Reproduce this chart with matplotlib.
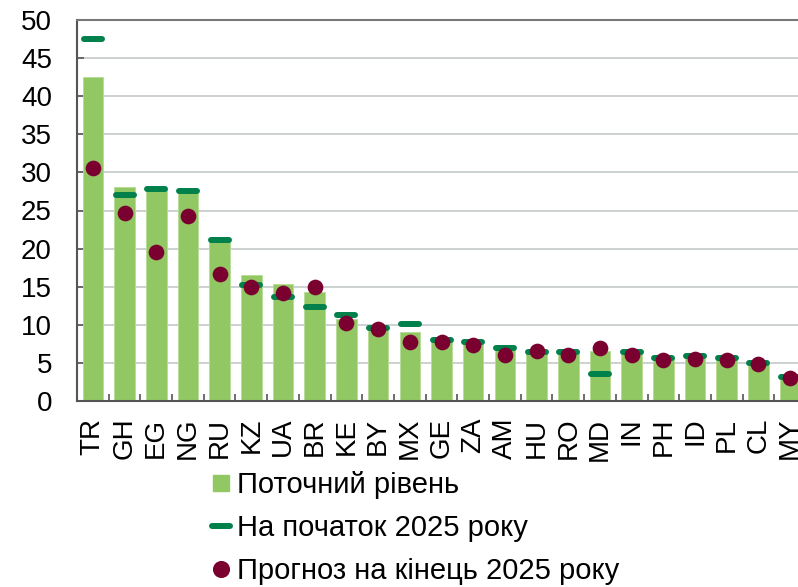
import matplotlib
matplotlib.use("Agg")
import matplotlib.pyplot as plt
from matplotlib.lines import Line2D
from matplotlib.markers import MarkerStyle
import numpy as np

plt.rcParams['font.family'] = ['Liberation Sans', 'DejaVu Sans']

categories = ["TR", "GH", "EG", "NG", "RU", "KZ", "UA", "BR", "KE", "BY", "MX", "GE",
              "ZA", "AM", "HU", "RO", "MD", "IN", "PH", "ID", "PL", "CL", "MY"]
current = [42.5, 28.1, 27.7, 27.3, 21.0, 16.5, 15.4, 14.3, 10.7, 9.5, 9.0, 8.0,
           7.5, 6.7, 6.4, 6.5, 6.5, 6.2, 5.7, 5.7, 5.7, 5.0, 3.0]
start_2025 = [47.5, 27.0, 27.8, 27.5, 21.1, 15.2, 13.6, 12.3, 11.3, 9.6, 10.1, 8.0,
              7.8, 7.0, 6.4, 6.4, 3.6, 6.4, 5.6, 5.9, 5.6, 5.0, 3.2]
forecast_2025 = [30.6, 24.7, 19.6, 24.3, 16.7, 14.9, 14.2, 14.9, 10.3, 9.5, 7.8, 7.7,
                 7.3, 6.0, 6.5, 6.1, 7.0, 6.1, 5.4, 5.5, 5.4, 4.9, 3.0]
yticks = [0, 5, 10, 15, 20, 25, 30, 35, 40, 45, 50]
legend_labels = ["Поточний рівень", "На початок 2025 року", "Прогноз на кінець 2025 року"]

bar_color = "#92C864"
dash_color = "#00804A"
dot_color = "#7A0030"

fig = plt.figure(figsize=(7.98, 5.87), dpi=100)
ax = fig.add_axes([77/798, 186/587, 729/798, 381/587])

x = np.arange(len(categories))
ax.bar(x, current, width=0.65, color=bar_color, edgecolor="#B5DC95", linewidth=0.6, zorder=2)
dash_marker = MarkerStyle('_', capstyle='round')
ax.plot(x, start_2025, linestyle='none', marker=dash_marker, markersize=12.5,
        markeredgewidth=4.3, color=dash_color, zorder=3)
ax.plot(x, forecast_2025, linestyle='none', marker='o', markersize=11.3,
        markerfacecolor=dot_color, markeredgecolor=dot_color, markeredgewidth=0, zorder=4)

ax.set_xlim(-0.5, len(categories) - 0.5)
ax.set_ylim(0, 50)
ax.set_yticks(yticks)
ax.yaxis.grid(True, color="#C5CACA", linewidth=1.2, zorder=0)
ax.set_axisbelow(True)

ax.set_xticks(x)
ax.set_xticklabels(categories, rotation=90, fontsize=20)
ax.set_xticks(np.arange(len(categories) + 1) - 0.5, minor=True)
ax.tick_params(axis='x', which='major', length=0, pad=12)
ax.tick_params(axis='x', which='minor', direction='in', length=5, width=1.2, color="#555555")
ax.tick_params(axis='y', direction='in', length=5, width=1.2, color="#555555",
               labelsize=20, pad=18)

for side in ['left', 'bottom']:
    ax.spines[side].set_color("#555555")
    ax.spines[side].set_linewidth(1.5)
ax.spines['top'].set_color("#777777")
ax.spines['top'].set_linewidth(1.5)
ax.spines['right'].set_visible(False)

handles = [
    Line2D([], [], linestyle='none', marker='s', markersize=11, color=bar_color),
    Line2D([], [], linestyle='none', marker=dash_marker, markersize=12.5,
           markeredgewidth=4.3, color=dash_color),
    Line2D([], [], linestyle='none', marker='o', markersize=11.3, color=dot_color),
]
fig.legend(handles, legend_labels, loc='upper left', bbox_to_anchor=(210/798, 1 - 471/587),
           frameon=False, fontsize=21, handlelength=0.72, handletextpad=0.2,
           labelspacing=0.52, borderpad=0, borderaxespad=0)

fig.savefig("out.png", dpi=100)
